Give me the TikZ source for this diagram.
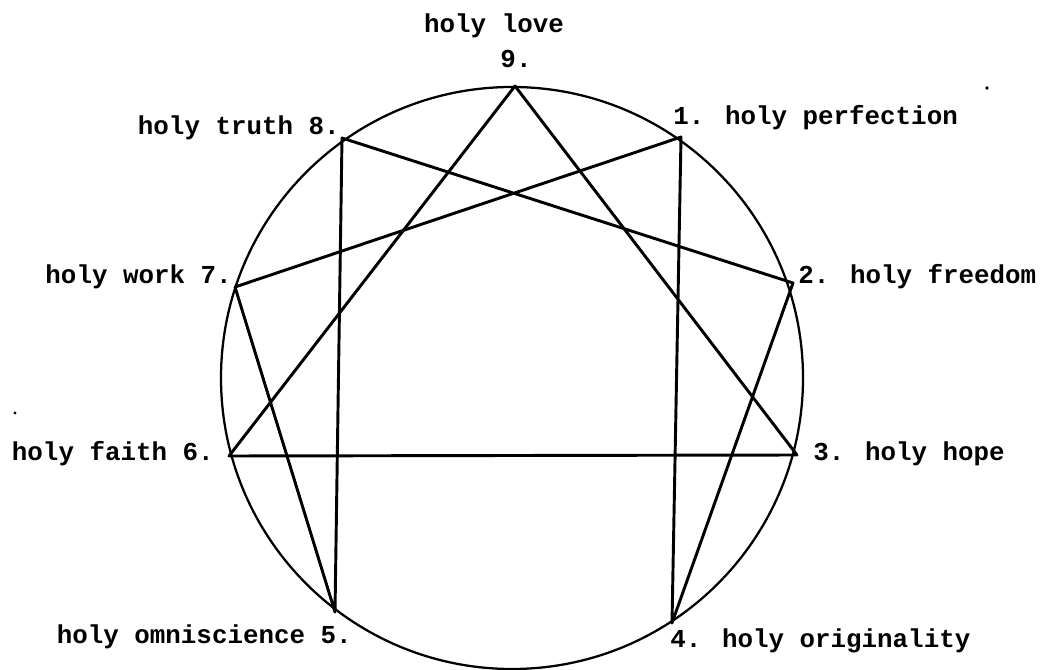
\documentclass[tikz,border=0pt]{standalone}
\usepackage{fontspec}
\newfontfamily\tw{Liberation Mono}
\tikzset{
  lbl/.style={inner sep=0pt, font=\tw\bfseries\fontsize{19.4}{23}\selectfont},
  edge/.style={line width=2.2pt, line cap=round, line join=round},
  ring/.style={line width=1.7pt},
  speck/.style={fill=black, draw=none}
}
\begin{document}
\begin{tikzpicture}[x=0.75pt, y=-0.75pt]
\useasboundingbox (0,0) rectangle (1042,670);
% circle
\coordinate (c) at (512,378);
\draw[ring] (c) circle [radius=218.25pt];
% points
\coordinate (p9) at (515,86);
\coordinate (p1) at (681,137);
\coordinate (p2) at (793,283);
\coordinate (p3) at (797,455);
\coordinate (p4) at (672,623);
\coordinate (p5) at (335,612);
\coordinate (p6) at (229,456);
\coordinate (p7) at (235,287);
\coordinate (p8) at (342,138);
% triangle
\draw[edge] (p9) -- (p3) -- (p6) -- cycle;
% hexad
\draw[edge] (p1) -- (p4) -- (p2) -- (p8) -- (p5) -- (p7) -- cycle;
% labels
\node[lbl, anchor=base] (l9a) at (494,33) {holy love};
\node[lbl, anchor=base] (l9b) at (516,68) {9.};
\node[lbl, anchor=base west] (l1) at (673,125) {1. holy perfection};
\node[lbl, anchor=base east] (l8) at (340,135) {holy truth 8.};
\node[lbl, anchor=base west] (l2) at (798,283) {2. holy freedom};
\node[lbl, anchor=base east] (l7) at (232,283) {holy work 7.};
\node[lbl, anchor=base west] (l3) at (813,460) {3. holy hope};
\node[lbl, anchor=base east] (l6) at (214,460) {holy faith 6.};
\node[lbl, anchor=base east] (l5) at (352,643) {holy omniscience 5.};
\node[lbl, anchor=base west] (l4) at (670,647) {4. holy originality};
% specks
\fill[speck] (987,88) circle [radius=1.4pt];
\fill[speck] (15,413) circle [radius=1.2pt];
\end{tikzpicture}
\end{document}
